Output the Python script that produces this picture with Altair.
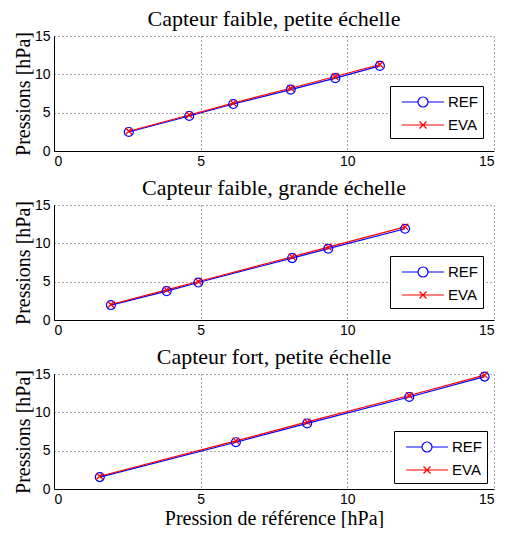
import altair as alt
import pandas as pd

titles = ["Capteur faible, petite échelle",
          "Capteur faible, grande échelle",
          "Capteur fort, petite échelle"]
series_names = ["REF", "EVA"]
series_colors = ["#0000ff", "#ff0000"]
tick_values = [0, 5, 10, 15]

x1 = [2.55, 4.61, 6.11, 8.07, 9.59, 11.11]
ref1 = [2.48, 4.57, 6.13, 8.0, 9.5, 11.1]
eva1 = [2.58, 4.70, 6.25, 8.18, 9.72, 11.28]

x2 = [1.94, 3.84, 4.92, 8.12, 9.35, 11.97]
ref2 = [1.95, 3.76, 4.89, 8.08, 9.30, 11.90]
eva2 = [2.02, 3.93, 5.02, 8.25, 9.50, 12.15]

x3 = [1.56, 6.20, 8.63, 12.11, 14.68]
ref3 = [1.55, 6.10, 8.55, 12.00, 14.66]
eva3 = [1.66, 6.28, 8.75, 12.20, 14.85]

REF_LEG = "M-2.1,0H-0.5M0.5,0H2.1M0.5,0A0.5,0.5,0,1,1,-0.5,0A0.5,0.5,0,1,1,0.5,0"
EVA_LEG = "M-2.1,0H2.1M-0.35,-0.35L0.35,0.35M-0.35,0.35L0.35,-0.35"
X_SHAPE = "M-1,-1L1,1M-1,1L1,-1"

W, H = 440, 115
legend_pos = [(336, 50), (336, 51), (340, 57)]


def panel(xs, ref, eva, title, xtitle, lpos):
    n = len(xs)
    df = pd.DataFrame({"x": xs + xs, "y": ref + eva,
                       "series": ["REF"] * n + ["EVA"] * n})
    base = alt.Chart(df)
    xaxis = alt.Axis(values=tick_values, labelPadding=3, titlePadding=2)
    if xtitle:
        X = alt.X("x:Q", scale=alt.Scale(domain=[0, 15], nice=False), axis=xaxis, title=xtitle)
    else:
        X = alt.X("x:Q", scale=alt.Scale(domain=[0, 15], nice=False), axis=xaxis, title=None)
    Y = alt.Y("y:Q", scale=alt.Scale(domain=[0, 15], nice=False),
              axis=alt.Axis(values=tick_values, labelPadding=4, titlePadding=1),
              title="Pressions [hPa]")
    sc = alt.Scale(domain=series_names, range=series_colors)
    ref_df = base.transform_filter(alt.datum.series == "REF")
    eva_df = base.transform_filter(alt.datum.series == "EVA")
    ref_line = ref_df.mark_line(strokeWidth=1.2, color="#0000ff").encode(x=X, y=Y)
    eva_line = eva_df.mark_line(strokeWidth=1.2, color="#ff0000").encode(x=X, y=Y)
    circles = ref_df.mark_point(
        shape="circle", size=80, color="#0000ff", filled=False, strokeWidth=1.2, opacity=1
    ).encode(x=X, y=Y)
    crosses = eva_df.mark_point(
        shape=X_SHAPE, size=42, color="#ff0000", filled=False, strokeWidth=1.2, opacity=1
    ).encode(x=X, y=Y)
    leg = alt.Legend(title=None, orient="none", legendX=lpos[0], legendY=lpos[1],
                     symbolSize=400, symbolStrokeWidth=1.2, symbolOpacity=1,
                     symbolOffset=17, labelOffset=14,
                     labelFont="Liberation Sans", labelFontSize=15, labelColor="black",
                     strokeColor="black", fillColor="white", padding=5,
                     rowPadding=4)
    legend_layer = base.mark_point(filled=False, opacity=0).encode(
        x=X, y=Y,
        color=alt.Color("series:N", scale=sc, legend=leg),
        shape=alt.Shape("series:N", scale=alt.Scale(domain=series_names, range=[REF_LEG, EVA_LEG]), legend=leg),
    )
    return alt.layer(ref_line, eva_line, circles, crosses, legend_layer).properties(
        width=W, height=H, title=title)


p1 = panel(x1, ref1, eva1, titles[0], None, legend_pos[0])
p2 = panel(x2, ref2, eva2, titles[1], None, legend_pos[1])
p3 = panel(x3, ref3, eva3, titles[2], "Pression de référence [hPa]", legend_pos[2])

chart = alt.vconcat(p1, p2, p3, spacing=9).resolve_scale(
    color="independent", shape="independent"
).resolve_legend(color="independent", shape="independent").properties(
    padding={"left": 5, "top": 0, "right": 2, "bottom": 0}
).configure_view(stroke=None).configure_axis(
    labelFont="Liberation Sans", labelFontSize=14, labelColor="black",
    domainColor="black", domainWidth=1, ticks=False,
    grid=True, gridColor="black", gridDash=[1, 3], gridOpacity=0.7, gridWidth=1,
    titleFont="Liberation Serif", titleFontSize=20, titleFontWeight="normal",
    titleColor="black"
).configure_title(
    font="Liberation Serif", fontSize=22, fontWeight="normal", color="black",
    anchor="middle", offset=-2
)

chart.save("out.html", embed_options={"renderer": "svg", "actions": False})
